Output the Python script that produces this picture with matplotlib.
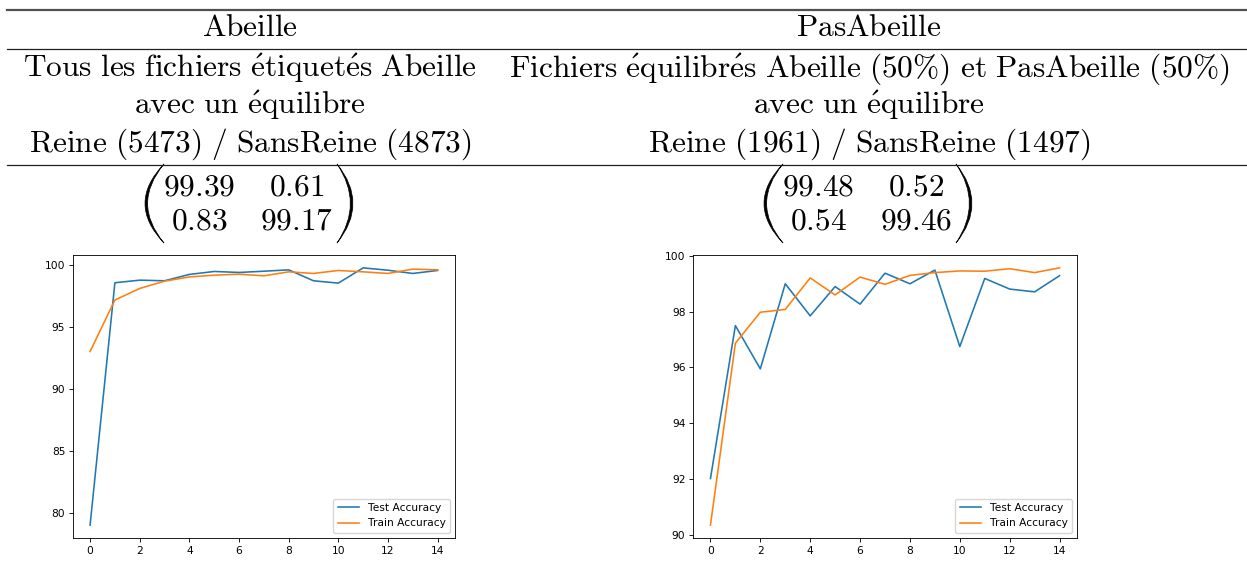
import matplotlib.pyplot as plt, numpy as np
from matplotlib.path import Path
from matplotlib.patches import PathPatch

plt.rcParams['mathtext.fontset'] = 'cm'

# data
epochs        = np.arange(15)
test_abeille  = [79.0, 98.53, 98.74, 98.69, 99.2, 99.44, 99.36, 99.46, 99.57, 98.69, 98.5, 99.73, 99.54, 99.28, 99.52]
train_abeille = [92.99, 97.14, 98.07, 98.66, 99.0, 99.14, 99.22, 99.09, 99.41, 99.28, 99.52, 99.41, 99.28, 99.63, 99.57]
test_pas      = [92.02, 97.5, 95.95, 99.0, 97.85, 98.9, 98.27, 99.38, 99.0, 99.49, 96.75, 99.19, 98.81, 98.71, 99.29]
train_pas     = [90.35, 96.87, 97.98, 98.08, 99.21, 98.6, 99.24, 98.98, 99.3, 99.4, 99.46, 99.45, 99.54, 99.4, 99.57]

headers = ['Abeille', 'PasAbeille']
descriptions = [
    ['Tous les fichiers étiquetés Abeille', 'avec un équilibre', 'Reine (5473) / SansReine (4873)'],
    ['Fichiers équilibrés Abeille (50%) et PasAbeille (50%)', 'avec un équilibre', 'Reine (1961) / SansReine (1497)'],
]
matrices = [[[99.39, 0.61], [0.83, 99.17]],
            [[99.48, 0.52], [0.54, 99.46]]]


def tex(s):
    s = s.replace(' ', r'\ ').replace('é', r'\acute{e}').replace('%', r'\%')
    return r'$\mathrm{' + s + '}$'


def paren(ax, x_end, x_mid, y_top, y_bot, w=2.6):
    # crescent shaped bracket, thick in the middle, thin at the ends
    ym = (y_top + y_bot) / 2
    d = x_mid - x_end
    inner = x_end + 2 * (d - np.sign(d) * w)
    verts = [(x_end, y_top), (x_end + 2 * d, ym), (x_end, y_bot),
             (inner, ym), (x_end, y_top), (x_end, y_top)]
    codes = [Path.MOVETO, Path.CURVE3, Path.CURVE3, Path.CURVE3, Path.CURVE3, Path.CLOSEPOLY]
    ax.add_patch(PathPatch(Path(verts, codes), facecolor='black', edgecolor='black', lw=0.5))


W, H = 1247, 570
fig = plt.figure(figsize=(W / 100, H / 100), dpi=100)

# table layer in pixel coordinates
bg = fig.add_axes([0, 0, 1, 1])
bg.set_xlim(0, W)
bg.set_ylim(H, 0)
bg.axis('off')

bg.plot([7, W], [10, 10], color='#505050', lw=1.6)
bg.plot([7, W], [48.5, 48.5], color='#202020', lw=0.9)
bg.plot([7, W], [165, 165], color='#202020', lw=0.9)

fs = 22.6
centers = [250, 869]
for c, head, desc, m in zip(centers, headers, descriptions, matrices):
    bg.text(c, 36, tex(head), ha='center', va='baseline', fontsize=fs)
    for line, yb in zip(desc, [77, 114.5, 152]):
        bg.text(c, yb, tex(line), ha='center', va='baseline', fontsize=fs)
    mc = c - 1
    for i, yb in enumerate([195, 229]):
        for j, xc in enumerate([mc - 50, mc + 48]):
            bg.text(xc, yb, r'$%.2f$' % m[i][j], ha='center', va='baseline', fontsize=fs)
    paren(bg, mc - 85, mc - 104, 164, 243)
    paren(bg, mc + 88, mc + 104, 164, 243)

# the two accuracy plots
small = {'font.size': 7.7, 'lines.linewidth': 1.15, 'axes.linewidth': 0.62,
         'xtick.major.size': 2.7, 'ytick.major.size': 2.7,
         'xtick.major.width': 0.62, 'ytick.major.width': 0.62,
         'xtick.major.pad': 2.7, 'ytick.major.pad': 2.7}
with plt.rc_context(small):
    for rect, test, train in [([72.7, 255, 455, 538], test_abeille, train_abeille),
                              ([693, 255, 1077, 538], test_pas, train_pas)]:
        x0, y0, x1, y1 = rect
        ax = fig.add_axes([x0 / W, 1 - y1 / H, (x1 - x0) / W, (y1 - y0) / H])
        ax.plot(epochs, test, label='Test Accuracy')
        ax.plot(epochs, train, label='Train Accuracy')
        ax.legend(loc='lower right')

fig.savefig('out.png', dpi=100)
